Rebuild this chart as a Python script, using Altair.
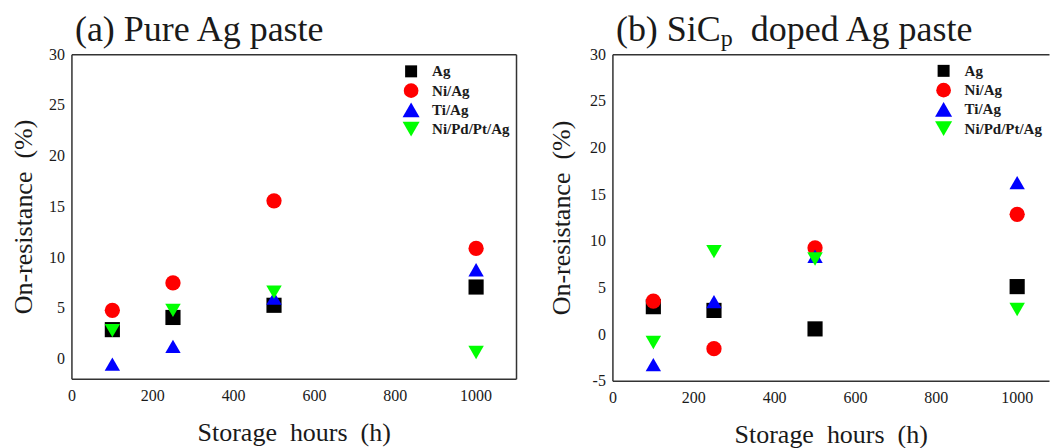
import altair as alt
import pandas as pd

# Storage times (h) and metallization series
hours = [100, 250, 500, 1000]
series = ["Ag", "Ni/Ag", "Ti/Ag", "Ni/Pd/Pt/Ag"]

# (a) Pure Ag paste: on-resistance change (%)
pure_ag = [2.9, 4.1, 5.3, 7.1]
pure_ni_ag = [4.8, 7.5, 15.6, 10.9]
pure_ti_ag = [-0.5, 1.25, 6.0, 8.8]
pure_nipdpt_ag = [2.8, 4.8, 6.6, 0.65]

# (b) SiCp doped Ag paste: on-resistance change (%)
sic_ag = [3.0, 2.6, 0.62, 5.15]
sic_ni_ag = [3.6, -1.5, 9.3, 12.9]
sic_ti_ag = [-3.2, 3.55, 8.4, 16.3]
sic_nipdpt_ag = [-0.83, 8.9, 8.1, 2.7]

colors = ["#000000", "#ff0000", "#0000ff", "#00ff00"]
shapes = ["square", "circle", "triangle-up", "triangle-down"]
sizes = [230, 240, 360, 360]
key_sizes = [144, 216, 290, 290]

# tick positions (minor + major) and labelled major ticks
x_ticks = [0, 100, 200, 300, 400, 500, 600, 700, 800, 900, 1000]
x_labels = [0, 200, 400, 600, 800, 1000]
y_ticks_a = [0, 2.5, 5, 7.5, 10, 12.5, 15, 17.5, 20, 22.5, 25, 27.5, 30]
y_labels_a = [0, 5, 10, 15, 20, 25, 30]
y_ticks_b = [-5, -2.5] + y_ticks_a
y_labels_b = [-5] + y_labels_a

FONT = "Liberation Serif"
INK = "#333333"
TEXT = "#1a1a1a"

X_TITLE = "Storage\u00a0\u00a0hours\u00a0\u00a0(h)"
Y_TITLE = "On-resistance\u00a0\u00a0(%)"


def table(values_by_series):
    rows = []
    for name, vals in zip(series, values_by_series):
        for h, v in zip(hours, vals):
            rows.append({"hours": h, "value": v, "series": name})
    return pd.DataFrame(rows)


def one_row():
    return pd.DataFrame({"k": [0]})


def frame_rules(W, H, right):
    segs = [
        dict(x=alt.value(0), x2=alt.value(W), y=alt.value(0)),
        dict(x=alt.value(0), x2=alt.value(W), y=alt.value(H)),
        dict(x=alt.value(0), y=alt.value(0), y2=alt.value(H)),
    ]
    if right:
        segs.append(dict(x=alt.value(W), y=alt.value(0), y2=alt.value(H)))
    return [
        alt.Chart(one_row()).mark_rule(color=INK, strokeWidth=1.5).encode(**s)
        for s in segs
    ]


def label_text(text, x, y, size, align="left", baseline="alphabetic",
               angle=0, weight="normal"):
    return (
        alt.Chart(pd.DataFrame({"t": [text]}))
        .mark_text(align=align, baseline=baseline, font=FONT, fontSize=size,
                   color=TEXT, angle=angle, fontWeight=weight)
        .encode(x=alt.value(x), y=alt.value(y), text="t:N")
    )


def panel(df, W, H, xmax, ydom, yticks, ylabels, key_x, key_y, ytitle_x,
          titles, right):
    xs = alt.Scale(domain=[0, xmax], nice=False, zero=False)
    ys = alt.Scale(domain=ydom, nice=False, zero=False)

    # inward ticks: axis pulled 5px into the plot, ticks pointing back out
    x_axis = alt.Axis(values=x_ticks, labels=False, title=None, offset=-5,
                      tickSize=5, domain=False, grid=False, tickColor=INK,
                      tickWidth=1.2)
    y_axis = alt.Axis(values=yticks, labels=False, title=None, offset=-5,
                      tickSize=5, domain=False, grid=False, tickColor=INK,
                      tickWidth=1.2)

    points = (
        alt.Chart(df)
        .mark_point(filled=True, opacity=1, strokeWidth=0)
        .encode(
            x=alt.X("hours:Q", scale=xs, axis=x_axis),
            y=alt.Y("value:Q", scale=ys, axis=y_axis),
            color=alt.Color("series:N",
                            scale=alt.Scale(domain=series, range=colors),
                            legend=None),
            shape=alt.Shape("series:N",
                            scale=alt.Scale(domain=series, range=shapes),
                            legend=None),
            size=alt.Size("series:N",
                          scale=alt.Scale(domain=series, range=sizes),
                          legend=None),
        )
    )

    x_tick_labels = (
        alt.Chart(pd.DataFrame({"hours": x_labels,
                                "lab": [str(v) for v in x_labels]}))
        .mark_text(align="center", baseline="top", font=FONT, fontSize=16,
                   color=TEXT)
        .encode(x=alt.X("hours:Q", scale=xs, axis=None),
                y=alt.value(H + 9), text="lab:N")
    )
    y_tick_labels = (
        alt.Chart(pd.DataFrame({"value": ylabels,
                                "lab": [str(v) for v in ylabels]}))
        .mark_text(align="right", baseline="middle", font=FONT, fontSize=16,
                   color=TEXT)
        .encode(y=alt.Y("value:Q", scale=ys, axis=None),
                x=alt.value(-7), text="lab:N")
    )

    axis_titles = [
        label_text(X_TITLE, W / 2, H + 61.5, 26, align="center"),
        label_text(Y_TITLE, ytitle_x, H / 2, 26, align="center",
                   baseline="middle", angle=270),
    ]

    # key: one symbol and one label per series
    key = []
    for i, (name, c, s, ks) in enumerate(zip(series, colors, shapes, key_sizes)):
        yy = key_y + i * 19.3
        key.append(
            alt.Chart(one_row())
            .mark_point(filled=True, opacity=1, strokeWidth=0)
            .encode(x=alt.value(key_x), y=alt.value(yy), shape=alt.value(s),
                    color=alt.value(c), size=alt.value(ks))
        )
        key.append(label_text(name, key_x + 21, yy, 15, baseline="middle",
                              weight="bold"))

    return alt.layer(
        points, x_tick_labels, y_tick_labels, *frame_rules(W, H, right),
        *axis_titles, *key, *titles,
    ).properties(width=W, height=H)


df_a = table([pure_ag, pure_ni_ag, pure_ti_ag, pure_nipdpt_ag])
df_b = table([sic_ag, sic_ni_ag, sic_ti_ag, sic_nipdpt_ag])

WA, HA = 445, 325
WB, HB = 437, 327

pa = panel(
    df_a, WA, HA, 1100, [-2, 30], y_ticks_a, y_labels_a, 339.5, 16.7, -48,
    [label_text("(a) Pure Ag paste", 3, -14, 36)], True,
)
pb = panel(
    df_b, WB, HB, 1080, [-5, 30], y_ticks_b, y_labels_b, 331, 16.2, -51,
    [
        label_text("(b) SiC", 3, -14, 36),
        label_text("p", 108, -9, 24),
        label_text("doped Ag paste", 138, -14, 36),
    ],
    False,
)

chart = (
    alt.hconcat(pa, pb, spacing=96.5, bounds="flush")
    .properties(padding={"left": 11, "top": 11.5, "right": 0, "bottom": 0})
    .configure_view(stroke=None)
)

chart.save("out.html", embed_options={"renderer": "svg", "actions": False})
